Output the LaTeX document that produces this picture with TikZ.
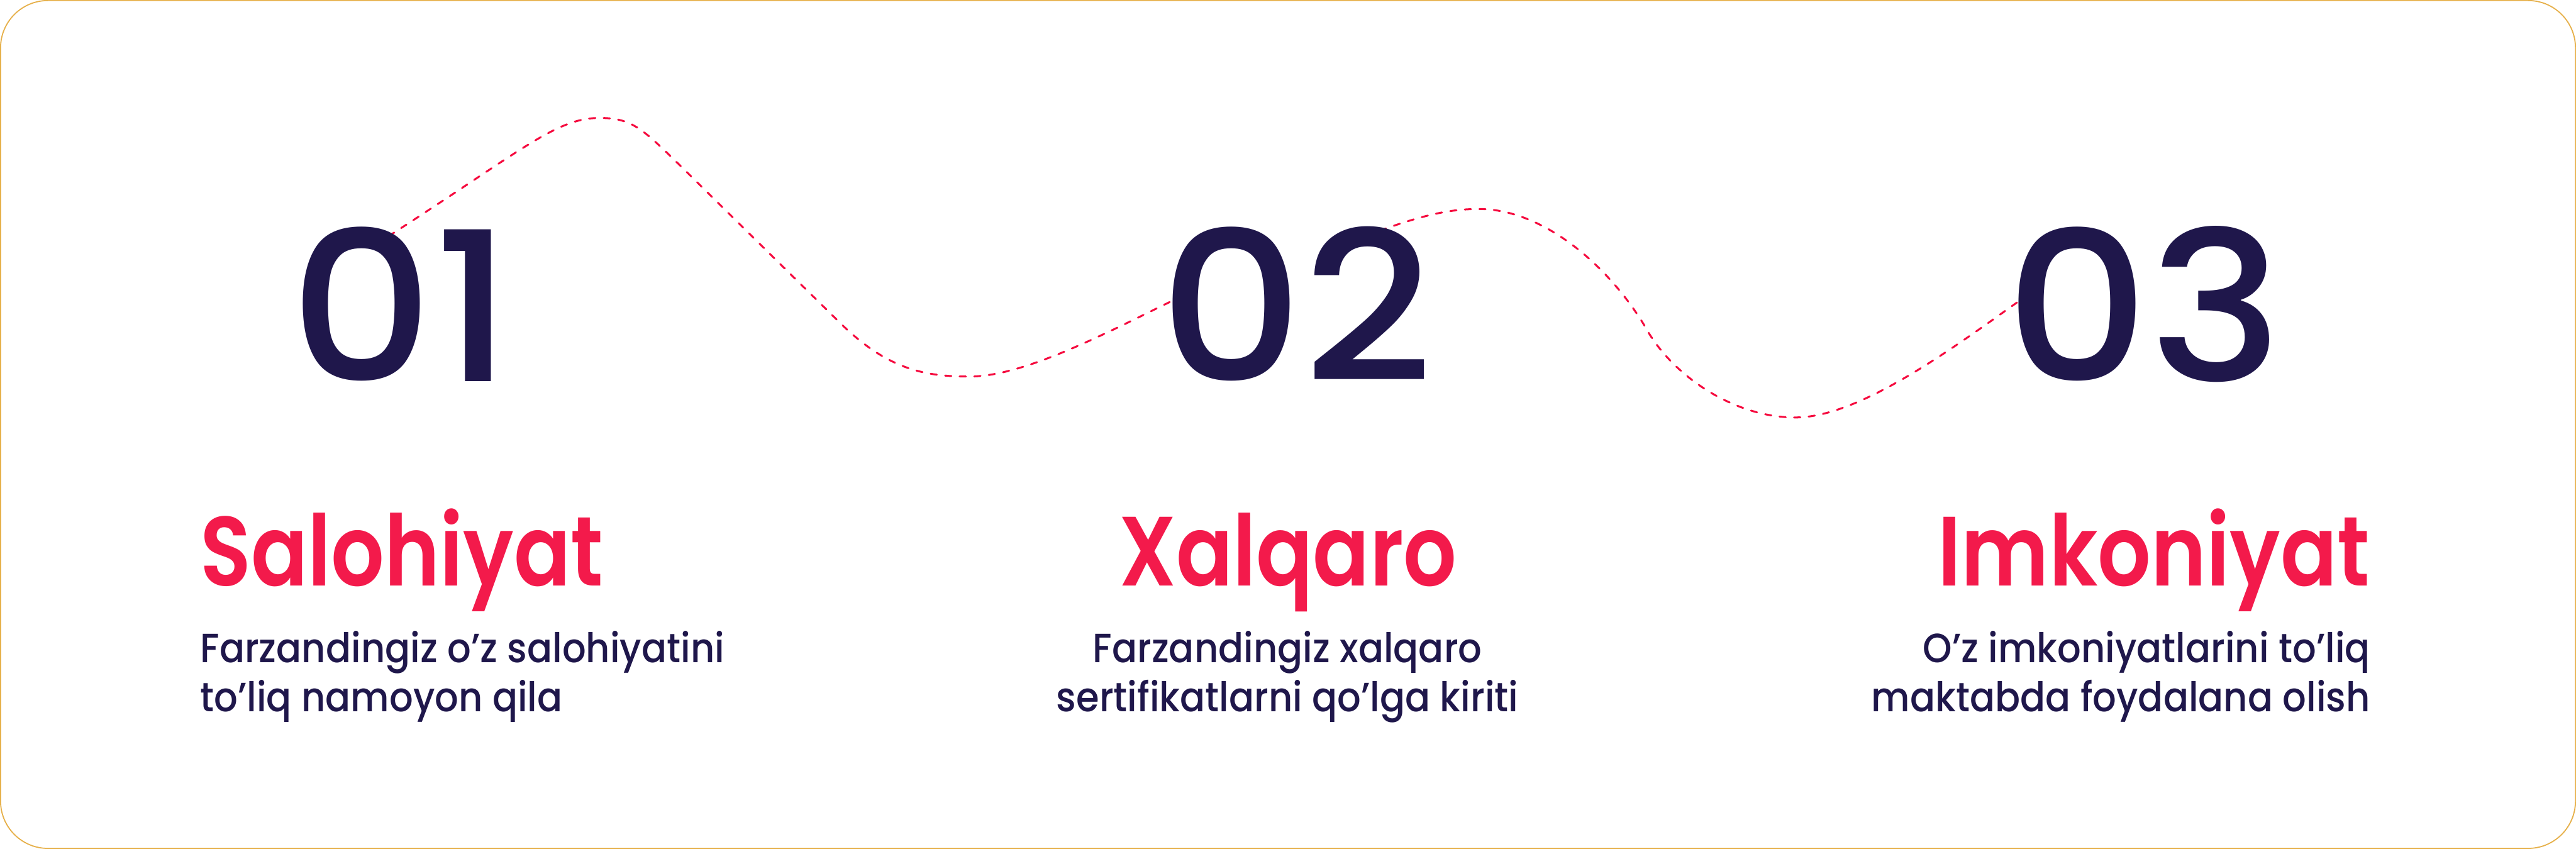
\documentclass[tikz,border=0pt]{standalone}
\usepackage{fontspec}
\setmainfont{Poppins}
\newfontfamily\numfont{Poppins Medium}[FakeStretch=1.08]
\newfontfamily\headfont{Poppins SemiBold}[FakeStretch=0.85]
\newfontfamily\bodyfont{Poppins Medium}[FakeStretch=0.91]
\usetikzlibrary{positioning,backgrounds}

\definecolor{inkblue}{HTML}{1F174B}
\definecolor{rosered}{HTML}{F31A4B}
\definecolor{trailred}{HTML}{F50A3E}
\definecolor{framegold}{HTML}{E6B04A}

\begin{document}
\begin{tikzpicture}[
  every node/.style={inner sep=0pt, outer sep=0pt},
  numeral/.style={font=\numfont\fontsize{110}{110}\selectfont, text=inkblue, anchor=base},
  heading/.style={font=\headfont\fontsize{52}{52}\selectfont, text=rosered},
  blurb/.style={font=\bodyfont\fontsize{21.6}{25.9}\selectfont, text=inkblue},
  trail/.style={draw=trailred, line width=1pt, dash pattern=on 3.3pt off 4.4pt, line cap=round}
]
\useasboundingbox (0,0) rectangle (47.82,15.76);
\draw[framegold, line width=0.6pt, rounded corners=0.88cm] (0.01,0.01) rectangle (47.81,15.75);

% step numbers
\node[numeral] (num1) at (7.45,8.68) {01};
\node[numeral] (num2) at (24.06,8.68) {02};
\node[numeral] (num3) at (39.80,8.68) {03};

% headings
\node[heading, anchor=base west] (head1) at (3.72,4.89) {Salohiyat};
\node[heading, anchor=base] (head2) at (23.91,4.89) {Xalqaro};
\node[heading, anchor=base east] (head3) at (43.99,4.89) {Imkoniyat};

% descriptions (base = last line)
\node[blurb, align=left, anchor=base west] (text1) at (3.72,2.55) {Farzandingiz o’z salohiyatini\\to’liq namoyon qila};
\node[blurb, align=center, anchor=base] (text2) at (23.90,2.55) {Farzandingiz xalqaro\\sertifikatlarni qo’lga kiriti};
\node[blurb, align=right, anchor=base east] (text3) at (44.00,2.55) {O’z imkoniyatlarini to’liq\\maktabda foydalana olish};

% dashed trail behind the numbers
\coordinate (tail1) at (7.22,11.38);
\coordinate (crest1) at (11.13,13.57);
\coordinate (trough1) at (18.00,8.77);
\coordinate (lead2) at (21.77,10.18);
\coordinate (tail2) at (25.62,11.48);
\coordinate (crest2) at (27.45,11.88);
\coordinate (trough2) at (33.33,8.01);
\coordinate (lead3) at (37.45,10.15);
\begin{scope}[on background layer]
\draw[trail] (tail1) .. controls (9.72,12.99) and (10.33,13.57) .. (crest1)
  .. controls (11.70,13.57) and (11.90,13.39) .. (12.50,12.81) -- (15.60,9.76)
  .. controls (16.50,8.88) and (17.20,8.77) .. (trough1)
  .. controls (19.00,8.77) and (20.50,9.56) .. (lead2);
\draw[trail] (tail2) .. controls (26.40,11.76) and (26.90,11.88) .. (crest2)
  .. controls (28.70,11.88) and (29.95,10.74) .. (30.60,9.59)
  .. controls (31.10,8.76) and (32.20,8.01) .. (trough2)
  .. controls (34.50,8.01) and (36.20,9.26) .. (lead3);
\end{scope}
\end{tikzpicture}
\end{document}
